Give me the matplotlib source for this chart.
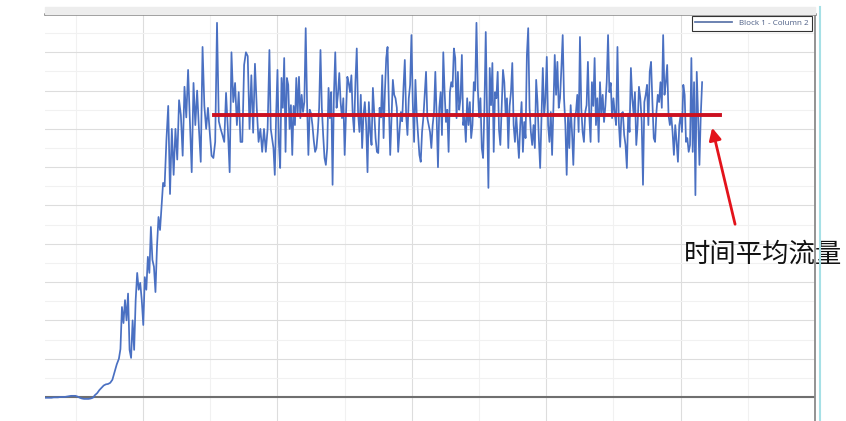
import numpy as np
import matplotlib.pyplot as plt
from matplotlib.patches import Rectangle
from matplotlib.lines import Line2D

# flow, segment by segment
# seg_times: segment edges on the time axis
seg_times = [27, 82, 116, 194, 275, 354, 432, 516]

flow_start = [-0.2, -0.2, -0.2, -0.2, -0.1, -0.1, -0.1, 0, 0, 0,
              0.1, 0.2, 0.3, 0.3, 0.3, 0.1, -0.2, -0.4, -0.5, -0.5,
              -0.5, -0.4, -0.2, 0.5, 1.0, 1.8, 2.4, 3.0, 3.3, 3.4,
              3.7, 4.5, 6.5, 8.5]
flow_ramp = [10, 12.5, 23.5, 19.3, 25.3, 20, 27, 12.3, 10.2, 20,
             12.3, 25.3, 32.4, 28, 29.8, 25.3, 18.8, 31.3, 28, 36.6,
             32.4, 44.4, 35.8, 34, 27.4, 39.2, 47, 43.6, 49.6, 55.9]
flow_c = [55, 67, 76, 53, 70, 58, 70, 62, 77.5, 73.6,
          63, 81, 73, 85.4, 72, 58.7, 82, 71, 80, 70,
          61.4, 91.4, 76, 70, 75.5, 69, 63, 62.4, 66.6, 97.7,
          72, 70, 68.4, 66.6, 79.4, 70, 58.7, 90, 77, 82,
          71, 79.6, 66.6, 66.6, 86.7, 90, 89, 70, 84, 69,
          87, 75.5, 66.6, 70, 64, 70, 64, 70]
flow_d = [90.6, 70, 67.6, 65, 58, 73.6, 85.4, 66.6, 59.8, 83.3,
          75.5, 88.5, 64, 83.3, 81.5, 70, 76.2, 63.2, 76, 71,
          83.3, 73.6, 83.6, 72.8, 78.9, 74.4, 77, 96.3, 77, 63.2,
          75, 74, 71, 67, 64, 65, 69.2, 75.5, 90.6, 75.5,
          68.4, 62.4, 60.6, 65, 80.7, 72.8, 79.6, 55.4, 78.9, 90,
          75.5, 79, 84.6, 77, 72.8, 78, 63.2, 74, 83.6, 82,
          79.6, 84, 73.6, 69.2, 82.2, 91, 74, 69.2, 78.9, 65,
          73.6, 77, 71, 58.7, 77, 69.2, 65.8, 80.7, 74, 67.6, 64]
flow_e = [63.7, 75.5, 73, 84, 67.6, 79.6, 88.5, 91.4, 76.2, 63.2,
          73, 82.8, 78.9, 78, 75.5, 64, 69.2, 74.4, 72, 80.7,
          88, 73.6, 68.4, 78, 81.5, 94.5, 77, 66.6, 82.8, 73.6,
          68.4, 63.2, 61.4, 69.2, 73, 78.9, 84.9, 72.8, 71, 69.2,
          65, 71, 74.4, 84.9, 73, 60, 75.5, 79.6, 68.4, 90,
          79.6, 71.8, 75, 64, 79.6, 82.2, 81, 91, 88.5, 72.8,
          84.9, 75, 78, 89.3, 71, 73, 66.6, 78, 71, 77,
          67.6, 71, 82.2, 80, 97.7, 80.7, 73, 78, 65, 62.4]
flow_f = [75.5, 95.3, 73.6, 54.6, 85.9, 76.2, 87.2, 64, 79.6, 78,
          84.9, 69.7, 65.8, 75.5, 85.4, 82.2, 73.6, 78, 65, 76,
          79.6, 87.2, 71, 66.6, 73.6, 67.6, 62.4, 71, 77, 64,
          71.8, 67.6, 89.3, 96.3, 75.5, 69.2, 65.8, 71, 65, 82.8,
          77, 67.6, 59.8, 72.8, 85.9, 73.6, 78, 88.8, 71, 66.6,
          74.4, 63.2, 75.5, 89.3, 78.9, 87.5, 75.5, 78, 85.9, 94.5,
          78, 71, 58, 73.6, 65, 76.2, 69.2, 60.6, 72.8, 74.4,
          78.9, 69.2, 94, 75.5, 69.2, 66.6, 74.4, 76.2, 87.5]
flow_g = [73.6, 66.6, 82.2, 76, 88.5, 71, 78, 66.6, 82.2, 74,
          78.9, 71.8, 76, 82.2, 94.5, 79.6, 82, 72.8, 78, 74,
          71, 91.4, 71.8, 65.3, 74, 74.4, 68.4, 65.8, 59.8, 74,
          69.2, 85.9, 78, 74, 79.6, 65.8, 71, 81, 78, 72,
          55.4, 77, 78.9, 81.5, 71, 84.9, 87.5, 77, 67.6, 66.6,
          74.4, 78.9, 77, 82.2, 75.5, 94.5, 78.9, 82.2, 86.7, 73.6,
          71, 73.6, 69.2, 63.2, 71, 66.6, 61.4, 71, 73.6, 69.2,
          81.5, 78.9, 66.6, 67.6, 64, 65.8, 88.5, 64, 82.2, 52.7,
          84.9, 73.6, 60.6, 73.6, 82.2]

mean_flow = 73.6
mean_t0, mean_t1 = 153, 529
arrow_tip = (523, 71)
arrow_tail = (541, 44.4)
label_pos = (561, 37.3)
label_text = "时间平均流量"
legend_label = "Block 1 - Column 2"

segments = [flow_start, flow_ramp, flow_c, flow_d, flow_e, flow_f, flow_g]
t_parts = []
for i, seg in enumerate(segments):
    last = i == len(segments) - 1
    t_parts.append(np.linspace(seg_times[i], seg_times[i + 1], len(seg), endpoint=last))
time = np.concatenate(t_parts)
flow = np.concatenate(segments)

W, H = 846, 421
fig = plt.figure(figsize=(W / 100, H / 100), dpi=100)
ax = fig.add_axes([45 / W, 0, 770 / W, 1 - 14 / H])
ax.set_xlim(27, 600)
ax.set_ylim(-6.27, 100)

ax.set_xticks(np.arange(100, 600, 100))
ax.set_xticks(np.arange(50, 600, 100), minor=True)
ax.set_yticks(np.arange(0, 100, 10))
ax.set_yticks(np.arange(5, 100, 10), minor=True)
ax.grid(which='major', color='#dddddd', lw=0.8)
ax.grid(which='minor', color='#f1f1f1', lw=0.8)
ax.tick_params(which='both', length=0, labelbottom=False, labelleft=False)
ax.set_axisbelow(True)

for s in ('left', 'bottom'):
    ax.spines[s].set_visible(False)
ax.spines['top'].set_color('#6e6e6e')
ax.spines['top'].set_linewidth(1.8)
ax.spines['right'].set_color('#8a8a8a')
ax.spines['right'].set_linewidth(1.3)

ax.axhline(0, color='#6f6f6f', lw=1.5)
ax.plot(time, flow, color='#4a70c2', lw=1.25, label=legend_label)

ax.plot([mean_t0, mean_t1], [mean_flow, mean_flow], color='#cc1020', lw=2.8)
ax.annotate('', xy=arrow_tip, xytext=arrow_tail,
            arrowprops=dict(arrowstyle='-|>', color='#e3131b', lw=2, mutation_scale=18))
ax.text(*label_pos, label_text, fontsize=19, ha='center', va='center', color='#111111',
        family=['Noto Sans CJK SC', 'DejaVu Sans'])

leg = ax.legend(loc='upper right', bbox_to_anchor=((812 - 45) / 770, 1 - 2 / 407),
                borderaxespad=0, fontsize=5.8, fancybox=False, edgecolor='#333333',
                framealpha=1, handlelength=4.6, borderpad=0.45,
                prop={'family': 'Open Sans', 'size': 5.8})
leg.get_frame().set_linewidth(0.8)
for t in leg.get_texts():
    t.set_color('#4d5f86')
leg.get_lines()[0].set_color('#5a73a8')

# screenshot chrome: grey band above the plot, cyan edge on the right
fig.patches.append(Rectangle((45 / W, 1 - 14 / H), 770 / W, 7 / H,
                             transform=fig.transFigure, color='#ededed', zorder=0))
fig.add_artist(Line2D([820 / W, 820 / W], [0, 1 - 7 / H], color='#a6e0e6', lw=1.5,
                      transform=fig.transFigure))

fig.savefig('out.png', dpi=100)
